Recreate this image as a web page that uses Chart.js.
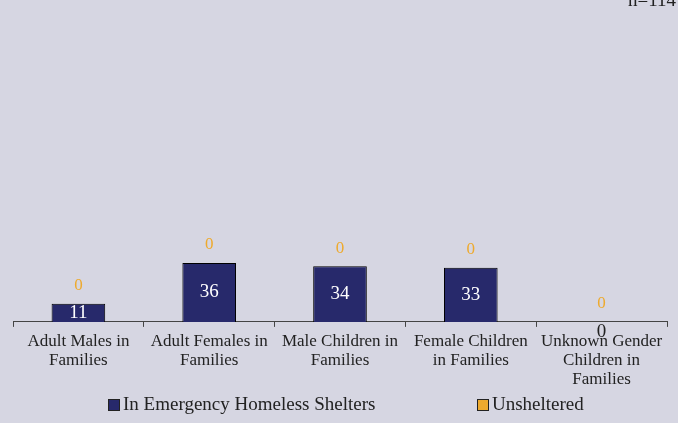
<!DOCTYPE html>
<html>
<head>
<meta charset="utf-8">
<script src="https://cdn.jsdelivr.net/npm/chart.js@4.4.0/dist/chart.umd.min.js"></script>
<style>
html, body { margin: 0; padding: 0; background: #d6d6e2; }
#wrap { width: 678px; height: 423px; position: relative; }
</style>
</head>
<body>
<div id="wrap"><canvas id="chart"></canvas></div>
<script>
var categories = [
    ['Adult Males in', 'Families'],
    ['Adult Females in', 'Families'],
    ['Male Children in', 'Families'],
    ['Female Children', 'in Families'],
    ['Unknown Gender', 'Children in', 'Families']
];
var shelteredValues = [11, 36, 34, 33, 0];
var unshelteredValues = [0, 0, 0, 0, 0];
var seriesNames = ['In Emergency Homeless Shelters', 'Unsheltered'];
var totalLabel = 'n=114';

var navy = '#27296b';
var orange = '#eeaa2e';
var serif = '"Liberation Serif", "DejaVu Serif", serif';

// подписи значений и легенда рисуются вручную
var labelsPlugin = {
    id: 'labelsPlugin',
    afterDatasetsDraw: function(chart) {
        var ctx = chart.ctx;
        var m0 = chart.getDatasetMeta(0);
        var m1 = chart.getDatasetMeta(1);
        ctx.save();
        ctx.textAlign = 'center';
        ctx.textBaseline = 'middle';
        m0.data.forEach(function(bar, i) {
            var v = shelteredValues[i];
            ctx.font = '19px ' + serif;
            if (v === 0) {
                ctx.fillStyle = '#222';
                ctx.fillText(v, bar.x, bar.base + 10);
            } else {
                ctx.fillStyle = '#ffffff';
                ctx.fillText(v, bar.x, (bar.y + bar.base) / 2);
            }
            var top = m1.data[i].y;
            ctx.font = '17px ' + serif;
            ctx.fillStyle = orange;
            ctx.fillText(unshelteredValues[i], bar.x, top - 18);
        });

        // n=114
        ctx.font = '19px ' + serif;
        ctx.fillStyle = '#222';
        ctx.textAlign = 'right';
        ctx.fillText(totalLabel, 676, 1);

        // легенда
        var colors = [navy, orange];
        var xs = [108, 477];
        ctx.textAlign = 'left';
        ctx.font = '19px ' + serif;
        for (var k = 0; k < seriesNames.length; k++) {
            ctx.fillStyle = colors[k];
            ctx.fillRect(xs[k], 399, 12, 12);
            ctx.strokeStyle = '#222';
            ctx.lineWidth = 1;
            ctx.strokeRect(xs[k] + 0.5, 399.5, 11, 11);
            ctx.fillStyle = '#222';
            ctx.fillText(seriesNames[k], xs[k] + 15, 405);
        }
        ctx.restore();
    }
};

var ctx = document.getElementById('chart').getContext('2d');
var myChart = new Chart(ctx, {
    type: 'bar',
    data: {
        labels: categories,
        datasets: [{
            label: seriesNames[0],
            data: shelteredValues,
            backgroundColor: navy,
            borderColor: '#000',
            borderWidth: 1,
            borderSkipped: 'bottom',
            categoryPercentage: 1,
            barPercentage: 0.41
        }, {
            label: seriesNames[1],
            data: unshelteredValues,
            backgroundColor: orange,
            borderWidth: 0,
            categoryPercentage: 1,
            barPercentage: 0.41
        }]
    },
    options: {
        responsive: true,
        maintainAspectRatio: false,
        animation: false,
        layout: { padding: { left: 13, right: 11, top: 27, bottom: 29 } },
        plugins: {
            legend: { display: false },
            tooltip: { enabled: false }
        },
        scales: {
            x: {
                stacked: true,
                offset: true,
                grid: {
                    display: true,
                    offset: true,
                    drawOnChartArea: false,
                    drawTicks: true,
                    tickLength: 5,
                    color: '#444'
                },
                border: { display: true, color: '#444', width: 1 },
                ticks: {
                    color: '#222',
                    font: { family: serif, size: 17, lineHeight: 1.12 },
                    maxRotation: 0,
                    autoSkip: false,
                    padding: 5
                }
            },
            y: {
                stacked: true,
                display: false,
                min: 0,
                max: 180
            }
        }
    },
    plugins: [labelsPlugin]
});
</script>
</body>
</html>
